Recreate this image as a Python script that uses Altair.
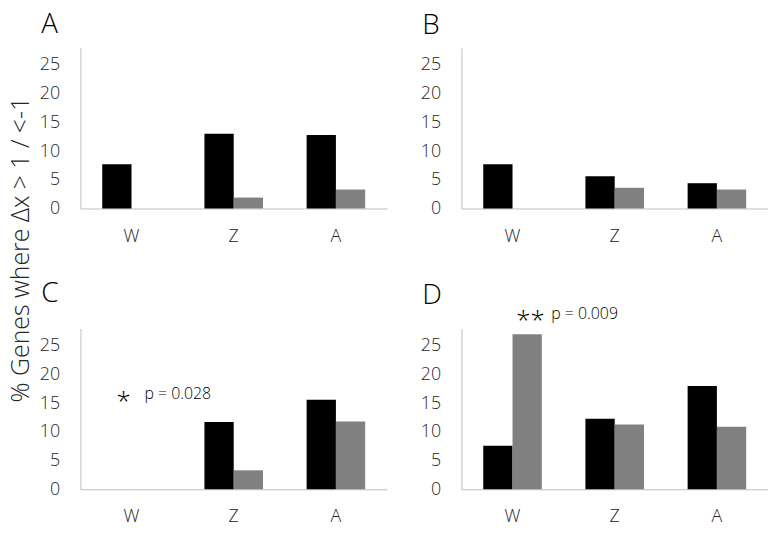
import altair as alt
import pandas as pd

categories = ["W", "Z", "A"]
series = ["Series 1", "Series 2"]
panel_letters = ["A", "B", "C", "D"]
letter_y = [30.5, 30.4, 32.6, 32.3]

black_A = [7.7, 13.0, 12.8]
gray_A = [0.0, 1.9, 3.3]
black_B = [7.7, 5.6, 4.4]
gray_B = [0.0, 3.6, 3.3]
black_C = [0.0, 11.7, 15.6]
gray_C = [0.0, 3.3, 11.8]
black_D = [7.6, 12.3, 18.0]
gray_D = [27.0, 11.3, 10.9]

y_ticks = [0, 5, 10, 15, 20, 25]
y_title = "% Genes where \u0394x > 1 / <-1"

# annotations: (category, y value, star text, p text)
ann_C = ("W", 16.6, "*", "p = 0.028")
ann_D = ("W", 30.6, "**", "p = 0.009")

FONT = "Open Sans"
TXT = "#262626"
AXC = "#bfbfbf"


def panel(idx, black, gray, first=False, ann=None, star_dx=0, p_dx=0):
    df = pd.DataFrame({
        "cat": categories * 2,
        "series": [series[0]] * 3 + [series[1]] * 3,
        "value": black + gray,
    })
    yaxis = dict(values=y_ticks, grid=False, ticks=False, tickSize=0, labelPadding=21,
                 labelFontSize=18, labelFont=FONT, labelFontWeight=300, labelColor=TXT,
                 labelOverlap=False, domainColor=AXC)
    if first:
        yaxis.update(title=y_title, titleFontSize=25, titleFont=FONT, titleFontWeight=300,
                     titleColor=TXT, titleY=203, titlePadding=6)
    else:
        yaxis.update(title="")
    x = alt.X("cat:N", sort=categories, title=None,
              scale=alt.Scale(paddingInner=0.427, paddingOuter=0.2136),
              axis=alt.Axis(labelAngle=0, ticks=False, tickSize=0, labelPadding=19,
                            labelFontSize=18, labelFont=FONT, labelFontWeight=300,
                            labelColor=TXT, domainColor=AXC, grid=False))
    y = alt.Y("value:Q", scale=alt.Scale(domain=[0, 28], nice=False), axis=alt.Axis(**yaxis))
    bars = alt.Chart(df).mark_bar().encode(
        x=x,
        xOffset=alt.XOffset("series:N", sort=series, scale=alt.Scale(paddingInner=0, paddingOuter=0)),
        y=y,
        color=alt.Color("series:N", scale=alt.Scale(domain=series, range=["#000000", "#808080"]), legend=None),
    )
    ldf = pd.DataFrame({"cat": ["W"], "value": [letter_y[idx]], "t": [panel_letters[idx]]})
    letter = alt.Chart(ldf).mark_text(fontSize=28, font=FONT, fontWeight=300, color="#000",
                                      align="left", baseline="alphabetic", dx=-91).encode(
        x=x, y=y, text="t:N")
    layers = [bars, letter]
    if ann is not None:
        adf = pd.DataFrame({"cat": [ann[0]], "value": [ann[1]], "star": [ann[2]], "p": [ann[3]]})
        star = alt.Chart(adf).mark_text(fontSize=26, font=FONT, fontWeight=300, color="#000",
                                        align="center", baseline="middle", dx=star_dx, dy=8).encode(
            x=x, y=y, text="star:N")
        ptxt = alt.Chart(adf).mark_text(fontSize=16, font=FONT, fontWeight=300, color="#000",
                                        align="left", baseline="middle", dx=p_dx).encode(
            x=x, y=y, text="p:N")
        layers += [star, ptxt]
    return alt.layer(*layers).properties(
        width=309, height=162,
        view=alt.ViewBackground(stroke="transparent", strokeWidth=0),
    )


pA = panel(0, black_A, gray_A, first=True)
pB = panel(1, black_B, gray_B)
pC = panel(2, black_C, gray_C, ann=ann_C, star_dx=-8, p_dx=13)
pD = panel(3, black_D, gray_D, ann=ann_D, star_dx=18, p_dx=39)

chart = alt.concat(pA, pB, pC, pD, columns=2, spacing={"row": 121, "column": 75}, bounds="flush").properties(
    padding={"left": 0, "top": 1, "right": 0, "bottom": 0},
    background="white",
).configure_view(strokeWidth=0, stroke="transparent")

chart.save("out.html", embed_options={"renderer": "svg", "actions": False})
